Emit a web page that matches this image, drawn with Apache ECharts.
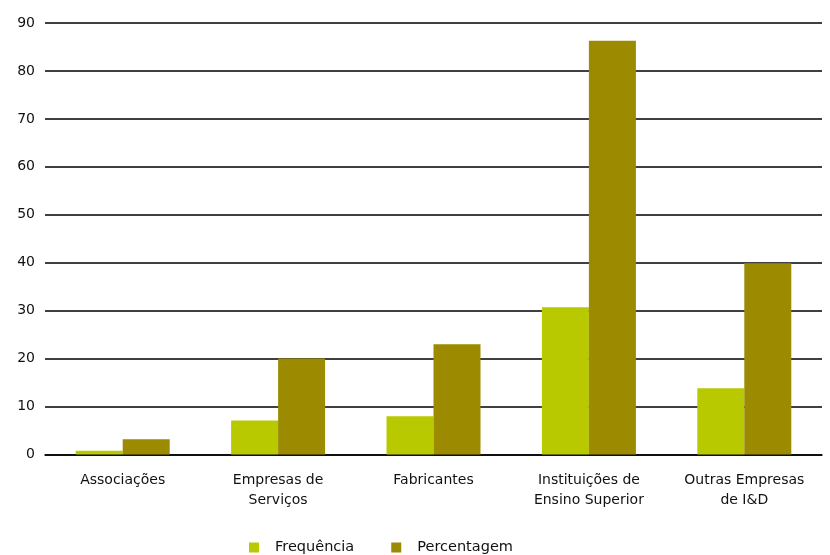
<!DOCTYPE html>
<html>
<head>
<meta charset="utf-8">
<script src="https://cdn.jsdelivr.net/npm/echarts@6/dist/echarts.min.js"></script>
<style>html,body{margin:0;padding:0;background:#fff}#c{width:830px;height:555px}</style>
</head>
<body>
<div id="c"></div>
<script>
var categories = ['Associações', 'Empresas de\nServiços', 'Fabricantes', 'Instituições de\nEnsino Superior', 'Outras Empresas\nde I&D'];
var frequencia = [0.8, 7.1, 8.0, 30.7, 13.8];
var percentagem = [3.2, 20.0, 23.0, 86.3, 39.9];
var yTicks = { min: 0, max: 90, interval: 10 };

var chart = echarts.init(document.getElementById('c'));
var font = 'DejaVu Sans';
chart.setOption({
  animation: false,
  backgroundColor: '#ffffff',
  grid: { left: 45, right: 8, top: 23, bottom: 100.5, containLabel: false },
  legend: {
    data: ['Frequência', 'Percentagem'],
    left: 244, top: 535,
    icon: 'rect', itemWidth: 10, itemHeight: 10, itemGap: 37,
    textStyle: { fontFamily: font, fontSize: 14.5, color: '#111', padding: [0, 0, 0, 11] }
  },
  xAxis: {
    type: 'category',
    data: categories,
    axisLine: { show: true, lineStyle: { color: '#000', width: 1.5 } },
    axisTick: { show: false },
    axisLabel: { fontFamily: font, fontSize: 14, color: '#111', margin: 16, lineHeight: 20, interval: 0 }
  },
  yAxis: {
    type: 'value',
    min: yTicks.min, max: yTicks.max, interval: yTicks.interval,
    axisLine: { show: false },
    axisTick: { show: false },
    axisLabel: { fontFamily: font, fontSize: 14, color: '#111', margin: 10 },
    splitLine: { show: true, lineStyle: { color: '#000', width: 1.5 } }
  },
  series: [
    { name: 'Frequência', type: 'bar', data: frequencia, barWidth: 47, barGap: '0%', itemStyle: { color: '#B9C900' } },
    { name: 'Percentagem', type: 'bar', data: percentagem, barWidth: 47, itemStyle: { color: '#9C8A00' } }
  ]
});
</script>
</body>
</html>
